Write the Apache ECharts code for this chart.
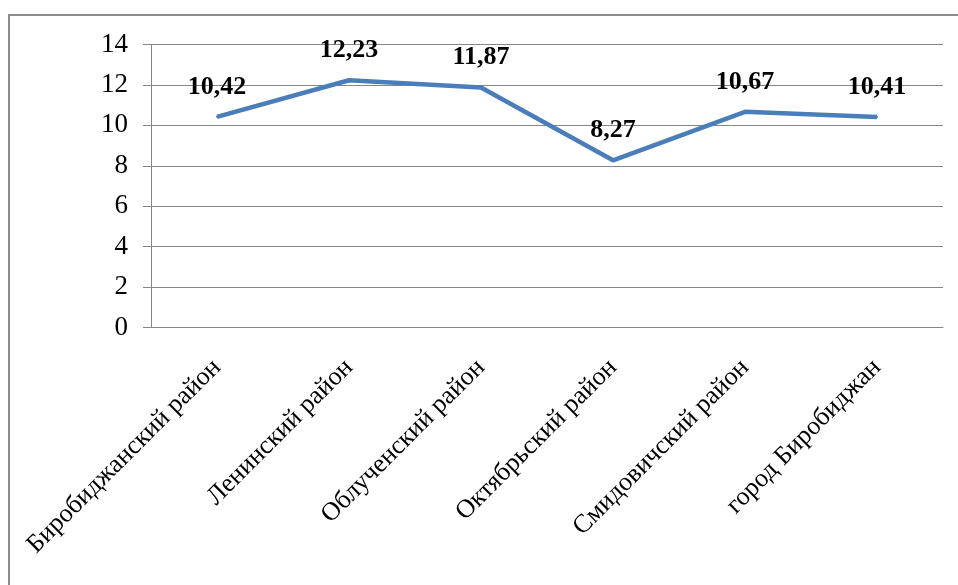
<!DOCTYPE html>
<html><head><meta charset="utf-8">
<script src="https://cdn.jsdelivr.net/npm/echarts@6/dist/echarts.min.js"></script>
<style>
html,body{margin:0;padding:0;background:#fff;overflow:hidden}
#frame{position:absolute;left:8px;top:14px;width:1000px;height:700px;border:2px solid #8c8c8c;box-sizing:border-box}
#c{position:absolute;left:0;top:0;width:958px;height:585px}
</style></head><body>
<div id="frame"></div>
<div id="c"></div>
<script>
const categories = ['Биробиджанский район','Ленинский район','Облученский район','Октябрьский район','Смидовичский район','город Биробиджан'];
const values = [10.42, 12.23, 11.87, 8.27, 10.67, 10.41];
const yTicks = [0, 2, 4, 6, 8, 10, 12, 14];

const chart = echarts.init(document.getElementById('c'), null, {renderer:'canvas'});
const serif = '"Liberation Serif","Times New Roman",serif';
chart.setOption({
  backgroundColor: 'transparent',
  animation: false,
  grid: {left:151, right:15, top:44.5, bottom:257.5},
  xAxis: {
    type:'category', data:categories, boundaryGap:true,
    axisLine:{lineStyle:{color:'#868686', width:1}},
    axisTick:{alignWithLabel:false, length:6, lineStyle:{color:'#868686'}},
    axisLabel:{rotate:45, fontFamily:serif, fontSize:26, color:'#000', margin:36, interval:0}
  },
  yAxis: {
    type:'value', min:yTicks[0], max:yTicks[yTicks.length-1], interval:2,
    axisLine:{show:true, lineStyle:{color:'#868686', width:1}},
    axisTick:{show:true, inside:false, length:8, lineStyle:{color:'#868686'}},
    splitLine:{lineStyle:{color:'#868686', width:1}},
    axisLabel:{fontFamily:serif, fontSize:27, color:'#000', margin:23}
  },
  series: [{
    type:'line', data:values, symbol:'circle', symbolSize:2, showSymbol:true,
    itemStyle:{color:'#4a7ebb'},
    lineStyle:{color:'#4a7ebb', width:4.5},
    label:{show:true, position:'top', distance:16, fontFamily:serif, fontSize:26, fontWeight:'bold', color:'#000',
      formatter: p => Number(p.value).toFixed(2).replace('.', ',')}
  }]
});
</script>
</body></html>
